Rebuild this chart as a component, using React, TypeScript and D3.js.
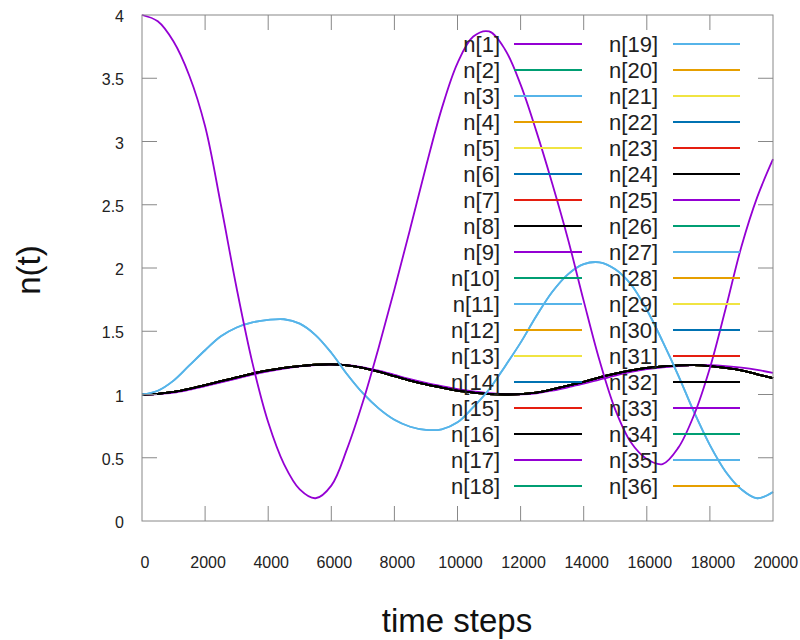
import React from 'react';
import * as d3 from 'd3';

// time axis, sampled every 500 steps
const steps = d3.range(0, 20001, 500);

// n[1]: the big oscillation
const siteOne = [
  4.0, 3.95, 3.79, 3.52, 3.12, 2.5, 1.84, 1.25, 0.78, 0.45,
  0.25, 0.18, 0.28, 0.57, 0.94, 1.37, 1.83, 2.31, 2.8, 3.26,
  3.62, 3.83, 3.87, 3.73, 3.45, 3.08, 2.67, 2.23, 1.74, 1.27,
  0.88, 0.62, 0.49, 0.45, 0.58, 0.84, 1.21, 1.68, 2.17, 2.56,
  2.86,
];

// light blue curve (n[3] / n[35])
const sideSite = [
  1.0, 1.03, 1.11, 1.23, 1.35, 1.46, 1.53, 1.57, 1.59, 1.595,
  1.56, 1.47, 1.33, 1.16, 1.01, 0.89, 0.8, 0.745, 0.72, 0.725,
  0.78, 0.9, 1.04, 1.22, 1.41, 1.62, 1.81, 1.95, 2.03, 2.045,
  1.99, 1.87, 1.67, 1.42, 1.15, 0.86, 0.6, 0.39, 0.25, 0.18,
  0.23,
];

// the bundle of curves close to 1 (drawn black on top)
const nearOne = [
  1.0, 1.005, 1.02, 1.045, 1.075, 1.105, 1.135, 1.165, 1.19, 1.21,
  1.225, 1.235, 1.238, 1.23, 1.21, 1.18, 1.145, 1.11, 1.08, 1.055,
  1.03, 1.015, 1.004, 1.0, 1.003, 1.015, 1.04, 1.07, 1.1, 1.135,
  1.165, 1.19, 1.21, 1.222, 1.23, 1.232, 1.225, 1.21, 1.19, 1.16,
  1.13,
];

// purple curve that sits just off the black bundle (n[33])
const nearOneOffset = [
  1.0, 1.004, 1.015, 1.038, 1.066, 1.095, 1.125, 1.157, 1.183, 1.205,
  1.222, 1.233, 1.237, 1.232, 1.215, 1.188, 1.155, 1.122, 1.092, 1.066,
  1.042, 1.024, 1.01, 1.003, 1.002, 1.01, 1.03, 1.057, 1.085, 1.118,
  1.15, 1.178, 1.2, 1.215, 1.225, 1.232, 1.232, 1.225, 1.213, 1.195,
  1.17,
];

const xTicks = [0, 2000, 4000, 6000, 8000, 10000, 12000, 14000, 16000, 18000, 20000];
const yTicks = [0, 0.5, 1, 1.5, 2, 2.5, 3, 3.5, 4];

// gnuplot default line colours, cycling every 8
const palette = ['#9400d3', '#009e73', '#56b4e9', '#e69f00', '#f0e442', '#0072b2', '#e51e10', '#000000'];

const seriesCount = 36;

const valuesFor = (k: number) => {
  if (k === 1) return siteOne;
  if (k === 3 || k === 35) return sideSite;
  if (k === 33) return nearOneOffset;
  return nearOne;
};

// draw order: hidden bundle first, then the offset purple, black, light blue, n[1]
const layer = (k: number) => {
  if (k === 1) return 4;
  if (k === 3 || k === 35) return 3;
  if (k % 8 === 0) return 2;
  if (k === 33) return 1;
  return 0;
};

const series = d3.range(1, seriesCount + 1).map(k => ({
  k,
  name: `n[${k}]`,
  color: palette[(k - 1) % 8],
  values: valuesFor(k),
}));

const font = '"Liberation Sans", Arial, sans-serif';

const App = () => {
  const width = 800;
  const height = 640;
  const margin = { top: 15, right: 27, bottom: 119, left: 142 };
  const x0 = margin.left;
  const x1 = width - margin.right;
  const y0 = height - margin.bottom;
  const y1 = margin.top;
  const tick = 15;

  const x = d3.scaleLinear().domain([0, 20000]).range([x0, x1]);
  const y = d3.scaleLinear().domain([0, 4]).range([y0, y1]);

  const line = d3.line<number>()
    .x((_, i) => x(steps[i]))
    .y(d => y(d))
    .curve(d3.curveCatmullRom.alpha(0.5));

  const ordered = [...series].sort((a, b) => layer(a.k) - layer(b.k) || a.k - b.k);

  const rowH = 26;
  const rowTop = 44;
  const perCol = 18;
  const cols = [
    { textRight: 500, lineFrom: 514, lineTo: 582 },
    { textRight: 658, lineFrom: 673, lineTo: 740 },
  ];

  const axisColor = '#888';

  return (
    <svg width={width} height={height} style={{ position: 'absolute', left: 0, top: 0, background: '#fff' }}>
      {/* curves */}
      <g fill="none" strokeWidth={1.8}>
        {ordered.map(s => (
          <path key={s.k} d={line(s.values) || ''} stroke={s.color} />
        ))}
      </g>

      {/* frame and ticks */}
      <rect x={x0} y={y1} width={x1 - x0} height={y0 - y1} fill="none" stroke={axisColor} strokeWidth={1} />
      <g stroke={axisColor} strokeWidth={1}>
        {xTicks.slice(1, -1).map(t => (
          <g key={t}>
            <line x1={x(t)} x2={x(t)} y1={y0} y2={y0 - tick} />
            <line x1={x(t)} x2={x(t)} y1={y1} y2={y1 + tick} />
          </g>
        ))}
        {yTicks.slice(1, -1).map(t => (
          <g key={t}>
            <line x1={x0} x2={x0 + tick} y1={y(t)} y2={y(t)} />
            <line x1={x1} x2={x1 - tick} y1={y(t)} y2={y(t)} />
          </g>
        ))}
      </g>

      {/* tick labels */}
      <g fontFamily={font} fontSize={16} fill="#222">
        {xTicks.map(t => (
          <text key={t} x={x(t) + 3} y={y0 + 47} textAnchor="middle">{t}</text>
        ))}
        {yTicks.map(t => (
          <text key={t} x={124} y={y(t) + 7} textAnchor="end">{t}</text>
        ))}
      </g>

      {/* axis titles */}
      <text
        fontFamily={font}
        fontSize={33}
        fill="#111"
        textAnchor="middle"
        transform={`translate(40, 270) rotate(-90)`}
      >
        n(t)
      </text>
      <text fontFamily={font} fontSize={33} fill="#111" textAnchor="middle" x={457} y={632}>
        time steps
      </text>

      {/* legend */}
      <g fontFamily={font} fontSize={22} fill="#222">
        {series.map((s, i) => {
          const c = cols[Math.floor(i / perCol)];
          const cy = rowTop + (i % perCol) * rowH;
          return (
            <g key={s.k}>
              <text x={c.textRight} y={cy} dy="0.35em" textAnchor="end">{s.name}</text>
              <line x1={c.lineFrom} x2={c.lineTo} y1={cy} y2={cy} stroke={s.color} strokeWidth={2} />
            </g>
          );
        })}
      </g>
    </svg>
  );
};

export default App;
